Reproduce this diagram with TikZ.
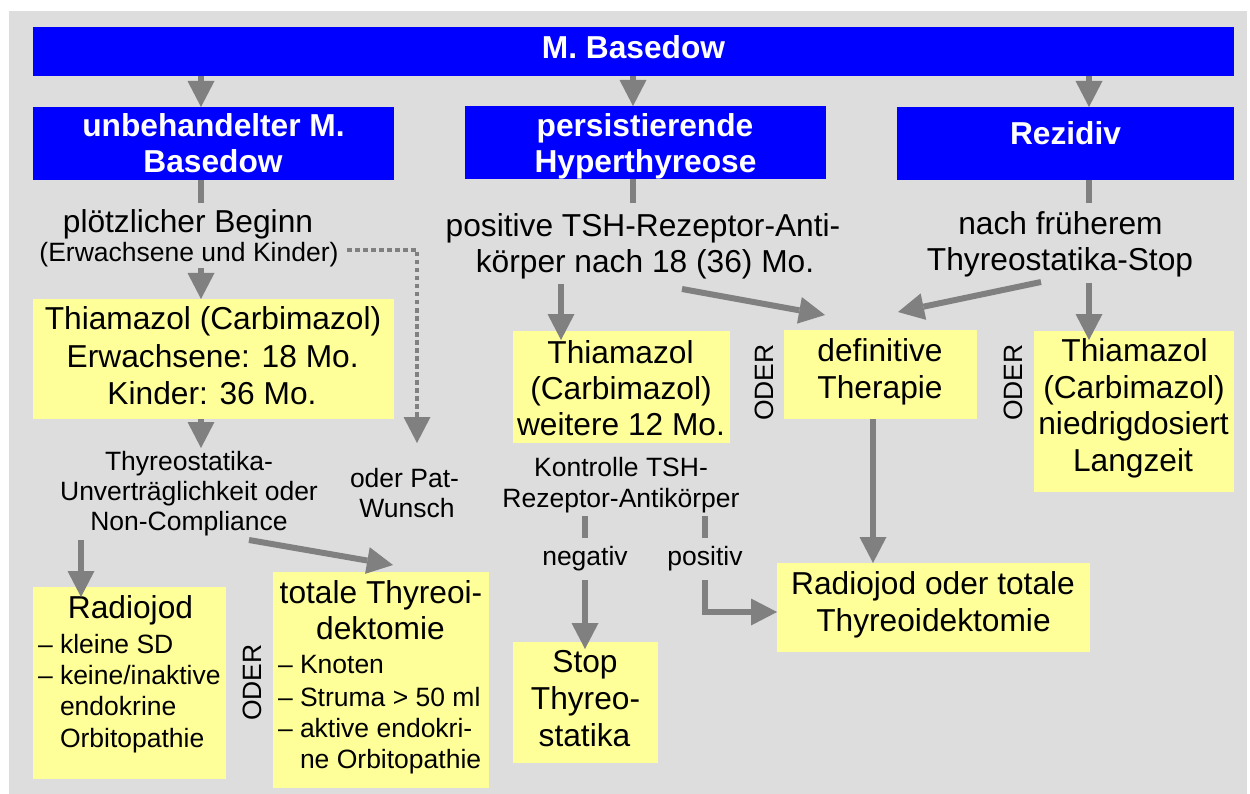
\documentclass[tikz,border=0pt]{standalone}
\usepackage{fontspec}
\setmainfont{Liberation Sans}
\usetikzlibrary{arrows.meta}
\definecolor{bgc}{HTML}{DDDDDD}
\definecolor{hblue}{HTML}{0000FF}
\definecolor{yfill}{HTML}{FFFF99}
\definecolor{agray}{HTML}{808080}
\newcommand\fbig{\fontsize{31.7pt}{36.5pt}\selectfont}
\newcommand\fsml{\fontsize{26.5pt}{30pt}\selectfont}
\begin{document}
\begin{tikzpicture}[x=1pt,y=-1pt,
  every node/.style={inner sep=0pt, outer sep=0pt},
  hbox/.style={fill=hblue},
  ybx/.style={fill=yfill},
  big/.style={font=\fbig, anchor=base},
  bigb/.style={font=\fbig\bfseries, text=white, anchor=base},
  sml/.style={font=\fsml, anchor=base},
  smlw/.style={font=\fsml, anchor=base west},
  oderlbl/.style={font=\fsml, rotate=90},
  arr/.style={draw=agray, line width=6pt, -{Triangle[width=27pt,length=26pt,line width=0pt]}},
  ln/.style={draw=agray, line width=6pt},
  dots/.style={draw=agray, line width=4.5pt, dash pattern=on 4.5pt off 3.5pt, -{Triangle[width=27pt,length=26pt,line width=0pt]}},
]
\useasboundingbox (0,0) rectangle (1250,794);
\fill[bgc] (9,11) rectangle (1247,794);

% boxes
\node[hbox, minimum width=1201pt, minimum height=49pt] (top) at (633.5,51.5) {};
\node[hbox, minimum width=361pt, minimum height=73pt] (unb) at (213.5,143.5) {};
\node[hbox, minimum width=361pt, minimum height=73pt] (pers) at (645.5,142.5) {};
\node[hbox, minimum width=337pt, minimum height=73pt] (rez) at (1065.5,143.5) {};
\node[ybx, minimum width=361pt, minimum height=120pt] (thL) at (213.5,359) {};
\node[ybx, minimum width=217pt, minimum height=112pt] (thM) at (621.5,387) {};
\node[ybx, minimum width=193pt, minimum height=89pt] (def) at (880.5,374.5) {};
\node[ybx, minimum width=200pt, minimum height=161pt] (thR) at (1134,411.5) {};
\node[ybx, minimum width=193pt, minimum height=192pt] (rad) at (129.5,683) {};
\node[ybx, minimum width=216pt, minimum height=216pt] (tot) at (381,680) {};
\node[ybx, minimum width=145pt, minimum height=121pt] (stp) at (585.5,702.5) {};
\node[ybx, minimum width=313pt, minimum height=89pt] (rot) at (933.5,607.5) {};

% header texts
\node[bigb] (tTop) at (633.5,59) {M. Basedow};
\node[bigb] (tU1) at (213.5,137) {unbehandelter M.};
\node[bigb] (tU2) at (213,172.5) {Basedow};
\node[bigb] (tP1) at (645,137) {persistierende};
\node[bigb] (tP2) at (645.5,172.5) {Hyperthyreose};
\node[bigb] (tR) at (1065.5,145) {Rezidiv};

% free labels
\node[big] (pb1) at (188,233) {plötzlicher Beginn};
\node[sml] (pb2) at (189,261.5) {(Erwachsene und Kinder)};
\node[big] (ps1) at (643,236.5) {positive TSH-Rezeptor-Anti-};
\node[big] (ps2) at (645,272.5) {körper nach 18 (36) Mo.};
\node[big] (nf1) at (1060.5,235) {nach früherem};
\node[big] (nf2) at (1060,271) {Thyreostatika-Stop};

\node[sml] (tu1) at (189,470) {Thyreostatika-};
\node[sml] (tu2) at (189,500.5) {Unverträglichkeit oder};
\node[sml] (tu3) at (189,530) {Non-Compliance};
\node[sml] (pw1) at (404.5,487) {oder Pat-};
\node[sml] (pw2) at (407,517) {Wunsch};
\node[sml] (kt1) at (621,476) {Kontrolle TSH-};
\node[sml] (kt2) at (621,507) {Rezeptor-Antikörper};
\node[sml] (neg) at (585,565) {negativ};
\node[sml] (pos) at (705,565) {positiv};

\node[oderlbl] (o1) at (252,682.5) {ODER};
\node[oderlbl] (o2) at (764,382.5) {ODER};
\node[oderlbl] (o3) at (1013,382.5) {ODER};

% box texts
\node[big] (thL1) at (213,330) {Thiamazol (Carbimazol)};
\node[big] (thL2) at (212.7,367) {Erwachsene: 18 Mo.};
\node[big] (thL3) at (212,404) {Kinder: 36 Mo.};
\node[big] (thM1) at (620.5,363) {Thiamazol};
\node[big] (thM2) at (621,399.5) {(Carbimazol)};
\node[big] (thM3) at (621,435.5) {weitere 12 Mo.};
\node[big] (def1) at (880,361.5) {definitive};
\node[big] (def2) at (880,398) {Therapie};
\node[big] (thR1) at (1134.5,361.5) {Thiamazol};
\node[big] (thR2) at (1134,398) {(Carbimazol)};
\node[big] (thR3) at (1133.5,434.5) {niedrigdosiert};
\node[big] (thR4) at (1133,471) {Langzeit};
\node[big] (rot1) at (933,594.5) {Radiojod oder totale};
\node[big] (rot2) at (933.5,631) {Thyreoidektomie};
\node[big] (stp1) at (585,672.5) {Stop};
\node[big] (stp2) at (585.5,709.5) {Thyreo-};
\node[big] (stp3) at (584.5,746.5) {statika};
\node[big] (rad0) at (130.5,618) {Radiojod};
\node[smlw] (radd1) at (38,653) {–};
\node[smlw] (rad1) at (60,653) {kleine SD};
\node[smlw] (radd2) at (38,684) {–};
\node[smlw] (rad2) at (60,684) {keine/inaktive};
\node[smlw] (rad3) at (60,715) {endokrine};
\node[smlw] (rad4) at (60,747) {Orbitopathie};
\node[big] (tot1) at (381,603) {totale Thyreoi-};
\node[big] (tot2) at (380.5,639) {dektomie};
\node[smlw] (totd1) at (278,673) {–};
\node[smlw] (tot3) at (300,673) {Knoten};
\node[smlw] (totd2) at (278,706) {–};
\node[smlw] (tot4) at (300,706) {Struma > 50 ml};
\node[smlw] (totd3) at (278,737.5) {–};
\node[smlw] (tot5) at (300,737.5) {aktive endokri-};
\node[smlw] (tot6) at (300,768.5) {ne Orbitopathie};

% columns and free ends
\coordinate (cL) at (201,0);
\coordinate (cM) at (633,0);
\coordinate (cR) at (1089,0);
\coordinate (cA) at (81,0);
\coordinate (cN) at (561,0);
\coordinate (cD) at (873,0);
\coordinate (cNg) at (585,0);
\coordinate (cPs) at (705,0);

% connectors
\draw[arr] (top.south -| cL) -- (unb.north -| cL);
\draw[arr] (top.south -| cM) -- (pers.north -| cM);
\draw[arr] (top.south -| cR) -- (rez.north -| cR);
\draw[ln] (unb.south -| cL) -- ++(0,23);
\draw[ln] (pers.south -| cM) -- ++(0,24);
\draw[ln] (rez.south -| cR) -- ++(0,23);

\coordinate (a4) at (201,268);
\draw[arr] (a4) -- (thL.north -| cL);
\coordinate (d0) at (347,250);
\coordinate (d1) at (417,250);
\coordinate (d2) at (417,443);
\draw[dots] (d0) -- (d1) -- (d2);
\draw[arr] (thL.south -| cL) -- ++(0,29);
\coordinate (a6) at (81,540);
\draw[arr] (a6) -- ([yshift=-10pt]rad.north -| cA);
\coordinate (a7s) at (249,540);
\coordinate (a7e) at (393,565);
\draw[arr] (a7s) -- (a7e);

\coordinate (a8) at (561,284);
\draw[arr] (a8) -- ([yshift=-9pt]thM.north -| cN);
\coordinate (a9s) at (682,289);
\coordinate (a9e) at (825,315);
\draw[arr] (a9s) -- (a9e);
\coordinate (a10s) at (1041,282);
\coordinate (a10e) at (898,312);
\draw[arr] (a10s) -- (a10e);
\coordinate (a11) at (1089,283);
\draw[arr] (a11) -- ([yshift=-9pt]thR.north -| cR);

\coordinate (l4) at (585,516);
\draw[ln] (l4) -- ++(0,22);
\coordinate (l5) at (705,516);
\draw[ln] (l5) -- ++(0,22);
\coordinate (a12) at (585,580);
\draw[arr] (a12) -- ([yshift=-7pt]stp.north -| cNg);
\coordinate (a13) at (705,580);
\coordinate (a13b) at (705,612);
\draw[arr] (a13) -- (a13b) -- (a13b -| rot.west);
\draw[arr] (def.south -| cD) -- (rot.north -| cD);
\end{tikzpicture}
\end{document}
